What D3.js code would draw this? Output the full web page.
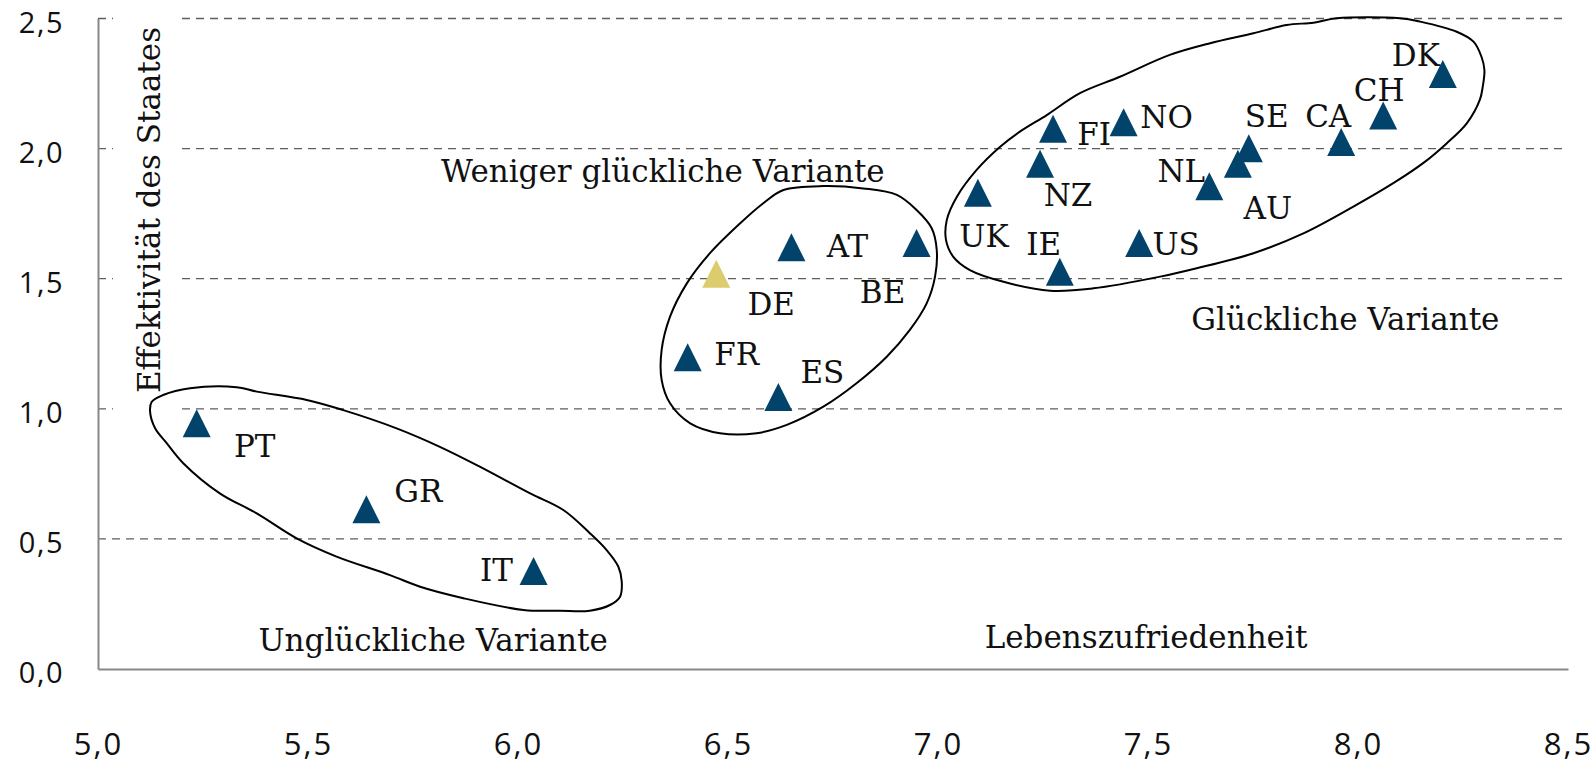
<!DOCTYPE html>
<html><head><meta charset="utf-8">
<script src="https://cdn.jsdelivr.net/npm/d3@7"></script>
<style>body{margin:0;background:#fff} svg{display:block}</style>
</head><body>
<svg id="chart" width="1596" height="763"></svg>
<script>
// ---- data ----
const countries = ["PT","GR","IT","FR","ES","DE","AT","BE","UK","IE","FI","NO","NZ","US","NL","AU","SE","CA","CH","DK"];
const lifeSatisfaction = [5.235,5.639,6.037,6.404,6.620,6.472,6.651,6.949,7.095,7.290,7.274,7.442,7.243,7.479,7.646,7.714,7.740,7.960,8.060,8.202];
const govEffectiveness = [0.944,0.614,0.377,1.198,1.045,1.519,1.621,1.637,1.830,1.527,2.076,2.101,1.942,1.637,1.855,1.942,2.001,2.025,2.127,2.287];
const highlighted = ["DE"];
const xTicks = [5.0,5.5,6.0,6.5,7.0,7.5,8.0,8.5];
const yTicks = [0,0.5,1.0,1.5,2.0,2.5];
const xTitle = "Lebenszufriedenheit";
const yTitle = "Effektivität des Staates";
const groupNames = ["Unglückliche Variante","Weniger glückliche Variante","Glückliche Variante"];
// hand-drawn group outlines, in data units [lifeSatisfaction, govEffectiveness]
const outlineUnhappy = [[5.128,1.027],[5.124,0.989],[5.136,0.925],[5.164,0.867],[5.203,0.791],[5.290,0.675],[5.378,0.598],[5.473,0.502],[5.568,0.432],[5.695,0.361],[5.767,0.316],[5.870,0.272],[6.013,0.227],[6.100,0.224],[6.171,0.224],[6.219,0.246],[6.243,0.278],[6.247,0.336],[6.239,0.393],[6.211,0.457],[6.171,0.522],[6.108,0.611],[6.029,0.675],[5.910,0.777],[5.814,0.854],[5.711,0.925],[5.584,0.995],[5.497,1.034],[5.378,1.066],[5.330,1.083],[5.219,1.079],[5.155,1.053]];
const outlineLessHappy = [[6.632,1.841],[6.727,1.856],[6.822,1.847],[6.902,1.822],[6.949,1.764],[6.985,1.694],[6.997,1.611],[6.993,1.508],[6.973,1.405],[6.933,1.303],[6.878,1.200],[6.806,1.098],[6.727,1.008],[6.640,0.938],[6.568,0.906],[6.481,0.906],[6.410,0.944],[6.362,1.021],[6.342,1.111],[6.342,1.226],[6.362,1.354],[6.402,1.482],[6.457,1.598],[6.529,1.713],[6.584,1.790]];
const outlineHappy = [[7.949,2.501],[8.100,2.501],[8.148,2.488],[8.235,2.449],[8.275,2.411],[8.294,2.353],[8.301,2.302],[8.297,2.238],[8.290,2.187],[8.259,2.097],[8.211,2.020],[8.155,1.944],[8.084,1.867],[7.989,1.777],[7.870,1.674],[7.751,1.598],[7.616,1.540],[7.529,1.508],[7.370,1.463],[7.267,1.454],[7.156,1.488],[7.076,1.533],[7.036,1.585],[7.019,1.649],[7.021,1.726],[7.045,1.815],[7.092,1.918],[7.148,2.007],[7.195,2.065],[7.259,2.129],[7.338,2.213],[7.433,2.276],[7.552,2.360],[7.648,2.405],[7.751,2.443],[7.830,2.475],[7.894,2.484]];
// group caption anchors in data units
const groupCaptionX = [5.798, 6.345, 7.970];
const groupCaptionY = [0.069, 1.871, 1.303];

// ---- layout (pixels) ----
const labelOffset = {
  PT:[58,34], GR:[52,-7], IT:[-37,10], FR:[49,8], ES:[44,-14], DE:[55,41], AT:[56,10], BE:[-34,60],
  UK:[6,54], IE:[-16,-17], FI:[41,16], NO:[43,6], NZ:[28,42], US:[37,12], NL:[-28,-4], AU:[30,55],
  SE:[18,-21], CA:[-13,-15], CH:[-4,-15], DK:[-27,-8]
};
const serif = "'DejaVu Serif', serif";
const sans = "'Open Sans', Lato, sans-serif";
const labelSize = 31;

const svg = d3.select("#chart");
const x = d3.scaleLinear().domain([5, 8.5]).range([98, 1568]);
const y = d3.scaleLinear().domain([0, 2.5]).range([669, 18.5]);
const fmt = d => d3.format(".1f")(d).replace(".", ",");

// gridlines
svg.append("g").selectAll("line").data(yTicks.filter(d => d > 0)).join("line")
  .attr("x1", x(5)).attr("x2", x(8.5))
  .attr("y1", d => y(d)).attr("y2", d => y(d))
  .attr("stroke", "#5e5e5e").attr("stroke-width", 1.3).attr("stroke-dasharray", "8,6");

// white text box behind y-axis title
svg.append("rect").attr("x", 113).attr("y", 0).attr("width", 69).attr("height", 418).attr("fill", "#fff");

// axes
const yAxis = svg.append("g").attr("transform", `translate(${x(5)},0)`)
  .call(d3.axisLeft(y).tickValues(yTicks).tickSize(0).tickPadding(34).tickFormat(fmt));
yAxis.select(".domain").attr("stroke", "#878787").attr("stroke-width", 2);
yAxis.selectAll("text").attr("font-family", sans).attr("font-size", 29).attr("letter-spacing", 1.5)
  .attr("fill", "#111").attr("dy", "0.48em");

const xAxis = svg.append("g").attr("transform", `translate(0,${y(0)})`)
  .call(d3.axisBottom(x).tickValues(xTicks).tickSize(0).tickPadding(64).tickFormat(fmt));
xAxis.select(".domain").attr("stroke", "#878787").attr("stroke-width", 2);
xAxis.selectAll("text").attr("font-family", sans).attr("font-size", 31).attr("letter-spacing", 2)
  .attr("fill", "#111");

// group outlines
const outline = d3.line().x(d => x(d[0])).y(d => y(d[1])).curve(d3.curveCatmullRomClosed.alpha(0.5));
svg.append("g").selectAll("path").data([outlineUnhappy, outlineLessHappy, outlineHappy]).join("path")
  .attr("d", outline).attr("fill", "none").attr("stroke", "#000").attr("stroke-width", 2);

// markers
const pts = countries.map((c, i) => ({c, lx: lifeSatisfaction[i], ge: govEffectiveness[i]}));
const tri = "M0,-14L14,14L-14,14Z";
svg.append("g").selectAll("path").data(pts).join("path")
  .attr("transform", d => `translate(${x(d.lx)},${y(d.ge)})`)
  .attr("d", tri)
  .attr("fill", d => highlighted.includes(d.c) ? "#dccc6e" : "#02436b");

// country labels
svg.append("g").selectAll("text").data(pts).join("text")
  .attr("x", d => x(d.lx) + labelOffset[d.c][0])
  .attr("y", d => y(d.ge) + labelOffset[d.c][1])
  .attr("text-anchor", "middle")
  .attr("font-family", serif).attr("font-size", labelSize).attr("fill", "#111")
  .text(d => d.c);

// group captions
svg.append("g").selectAll("text").data(groupNames).join("text")
  .attr("x", (d, i) => x(groupCaptionX[i]))
  .attr("y", (d, i) => y(groupCaptionY[i]))
  .attr("text-anchor", "middle")
  .attr("font-family", serif).attr("font-size", labelSize).attr("fill", "#111")
  .text(d => d);

// axis titles (placed inside the plot as in the original)
svg.append("text")
  .attr("x", 1146).attr("y", 648)
  .attr("text-anchor", "middle")
  .attr("font-family", serif).attr("font-size", labelSize).attr("fill", "#111")
  .text(xTitle);
svg.append("text")
  .attr("transform", "translate(160,210) rotate(-90)")
  .attr("text-anchor", "middle")
  .attr("font-family", serif).attr("font-size", labelSize).attr("fill", "#111")
  .text(yTitle);
</script>
</body></html>
